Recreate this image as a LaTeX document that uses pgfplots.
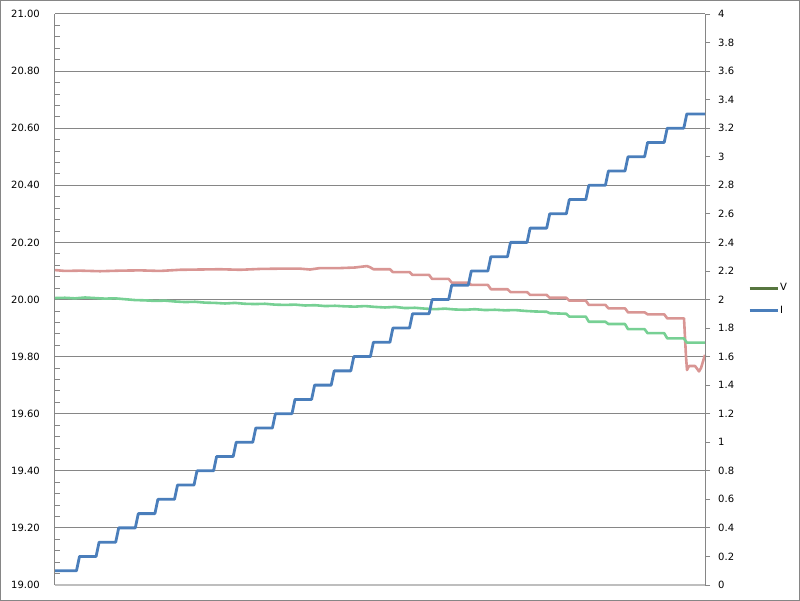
\documentclass[border=0pt]{standalone}
\usepackage{fontspec}
\setmainfont{DejaVu Sans}
\usepackage{pgfplots}
\pgfplotsset{compat=1.18}
\definecolor{gridgray}{RGB}{134,134,134}
\definecolor{xgray}{RGB}{190,190,190}
\definecolor{redl}{RGB}{217,150,148}
\definecolor{greenl}{RGB}{119,208,148}
\definecolor{bluel}{RGB}{74,126,187}
\definecolor{vgreen}{RGB}{87,118,63}
\begin{document}
\begin{tikzpicture}
\useasboundingbox (0pt,0pt) rectangle (800pt,601pt);
\draw[draw=gridgray, line width=1pt] (0.5pt,0.5pt) rectangle (799.5pt,600.5pt);
\begin{axis}[
  at={(55pt,16pt)}, anchor=south west,
  width=650pt, height=571pt, scale only axis,
  xmin=55, xmax=705, ymin=19, ymax=21,
  axis x line*=bottom, axis y line*=left,
  xtick=\empty,
  ytick={19,19.2,19.4,19.6,19.8,20,20.2,20.4,20.6,20.8,21},
  minor y tick num=4,
  ymajorgrids, grid style={draw=gridgray, line width=1pt},
  tick align=inside, major tick length=0pt, minor tick length=5pt,
  tick style={draw=gridgray, line width=0.8pt},
  x axis line style={draw=xgray, line width=2pt},
  y axis line style={draw=gridgray, line width=1pt},
  yticklabel style={font=\fontsize{10}{12}\selectfont, inner sep=0pt, xshift=-15pt,
    /pgf/number format/.cd, fixed, fixed zerofill, precision=2, assume math mode=true},
  clip=false,
]
\addplot[redl, line width=2.6pt, line join=round] coordinates {
(55,20.103) (65,20.100) (80,20.101) (100,20.099) (120,20.101) (140,20.102) (160,20.100)
(180,20.104) (200,20.105) (220,20.106) (240,20.104) (260,20.107) (280,20.108) (300,20.108)
(310,20.105) (320,20.110) (340,20.110) (355,20.112) (362,20.115) (367,20.117) (370,20.113)
(373.4,20.106) (389.9,20.106) (392.9,20.096) (409.5,20.096) (412.5,20.086) (429.1,20.086)
(432.1,20.072) (448.7,20.072) (451.7,20.059) (468.3,20.059) (471.3,20.051) (487.9,20.051)
(490.9,20.036) (507.5,20.036) (510.5,20.026) (527.1,20.026) (530.1,20.016) (546.7,20.016)
(549.7,20.006) (566.3,20.006) (569.3,19.996) (585.8,19.996) (588.8,19.981) (605.4,19.981)
(608.4,19.969) (625,19.969) (628,19.955) (644.6,19.955) (647.6,19.948) (664.2,19.948)
(667.2,19.934) (684,19.934) (686,19.80) (687,19.753) (689,19.767) (695,19.767) (697,19.758)
(699,19.748) (701,19.760) (705,19.806)
};
\addplot[greenl, line width=2.6pt, line join=round] coordinates {
(55,20.005) (65,20.006) (75,20.004) (85,20.007) (95,20.005) (105,20.003) (115,20.004)
(125,20.001) (135,19.998) (145,19.997) (155,19.995) (165,19.996) (175,19.993) (185,19.991)
(195,19.992) (205,19.989) (215,19.988) (225,19.986) (235,19.988) (245,19.985) (255,19.984)
(265,19.985) (275,19.982) (285,19.981) (295,19.982) (305,19.979) (315,19.980) (325,19.977)
(335,19.978) (345,19.976) (355,19.975) (365,19.977) (375,19.974) (385,19.972) (395,19.974)
(405,19.970) (415,19.971) (425,19.968) (435,19.966) (445,19.968) (455,19.965) (465,19.964)
(475,19.966) (485,19.963) (495,19.964) (505,19.962) (515,19.963) (525,19.960) (535,19.958)
(546.7,19.957) (549.7,19.952) (566.3,19.950) (569.3,19.940) (585.8,19.940) (588.8,19.922)
(605.4,19.922) (608.4,19.914) (625,19.914) (628,19.896) (644.6,19.896) (647.6,19.882)
(664.2,19.882) (667.2,19.864) (683.8,19.864) (686.8,19.849) (705,19.849)
};
\end{axis}
\begin{axis}[
  at={(55pt,16pt)}, anchor=south west,
  width=650pt, height=571pt, scale only axis,
  xmin=55, xmax=705, ymin=0, ymax=4,
  axis x line=none, axis y line*=right,
  ytick={0,0.2,0.4,0.6,0.8,1,1.2,1.4,1.6,1.8,2,2.2,2.4,2.6,2.8,3,3.2,3.4,3.6,3.8,4},
  tick align=outside, major tick length=5pt,
  tick style={draw=gridgray, line width=0.8pt},
  y axis line style={draw=gridgray, line width=1pt},
  yticklabel style={font=\fontsize{10}{12}\selectfont, inner sep=0pt, xshift=8pt,
    /pgf/number format/.cd, assume math mode=true},
  clip=false,
  legend image code/.code={\draw[#1] (0pt,0pt) -- (28pt,0pt);},
  legend style={at={(1.066,0.5)}, anchor=west, draw=none, fill=none, inner sep=0pt,
    font=\fontsize{10}{12}\selectfont, row sep=12pt,
    nodes={inner sep=1pt}},
  legend cell align=left,
]
\addlegendimage{vgreen, line width=3pt}
\addlegendentry{V}
\addplot[bluel, line width=2.8pt, line join=round] coordinates {
(55,0.1) (76.5,0.1) (79.5,0.2) (96.1,0.2) (99.1,0.3) (115.7,0.3) (118.7,0.4)
(135.3,0.4) (138.3,0.5) (154.9,0.5) (157.9,0.6) (174.5,0.6) (177.5,0.7)
(194.0,0.7) (197.0,0.8) (213.6,0.8) (216.6,0.9) (233.2,0.9) (236.2,1.0)
(252.8,1.0) (255.8,1.1) (272.4,1.1) (275.4,1.2) (292.0,1.2) (295.0,1.3)
(311.6,1.3) (314.6,1.4) (331.2,1.4) (334.2,1.5) (350.8,1.5) (353.8,1.6)
(370.4,1.6) (373.4,1.7) (389.9,1.7) (392.9,1.8) (409.5,1.8) (412.5,1.9)
(429.1,1.9) (432.1,2.0) (448.7,2.0) (451.7,2.1) (468.3,2.1) (471.3,2.2)
(487.9,2.2) (490.9,2.3) (507.5,2.3) (510.5,2.4) (527.1,2.4) (530.1,2.5)
(546.7,2.5) (549.7,2.6) (566.3,2.6) (569.3,2.7) (585.8,2.7) (588.8,2.8)
(605.4,2.8) (608.4,2.9) (625.0,2.9) (628.0,3.0) (644.6,3.0) (647.6,3.1)
(664.2,3.1) (667.2,3.2) (683.8,3.2) (686.8,3.3) (705,3.3)
};
\addlegendentry{I}
\end{axis}
\end{tikzpicture}
\end{document}
